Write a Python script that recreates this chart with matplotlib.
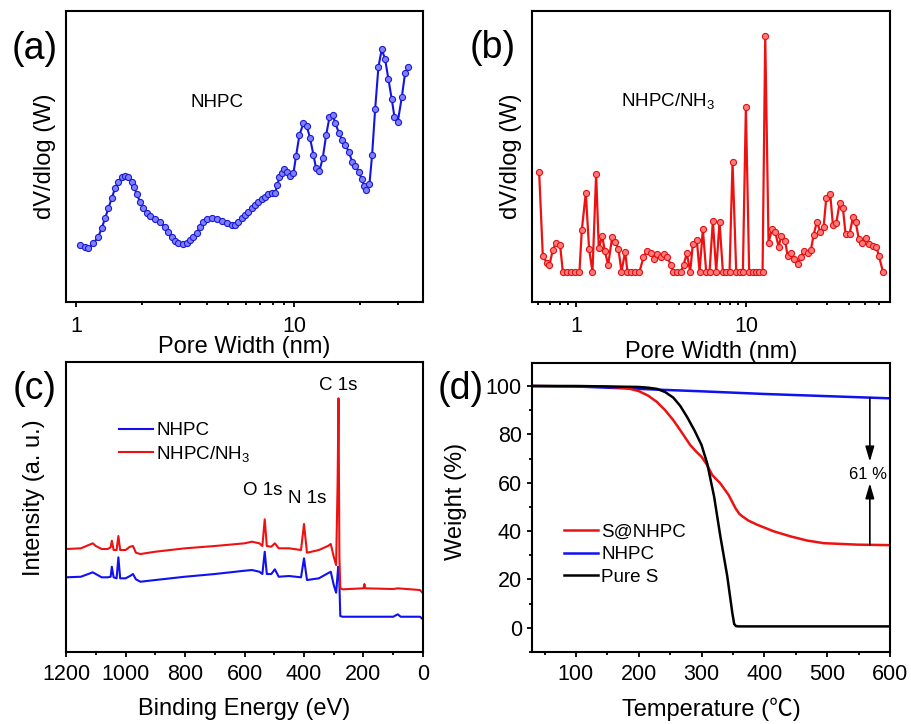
import matplotlib
matplotlib.use("Agg")
import matplotlib.pyplot as plt
from matplotlib.lines import Line2D
from matplotlib.ticker import MultipleLocator

plt.rcParams["font.family"] = ["Liberation Sans", "DejaVu Sans"]
plt.rcParams["mathtext.default"] = "regular"

# (a) pore size distribution, NHPC
pw_a = [1.043, 1.100, 1.139, 1.201, 1.266, 1.311, 1.359, 1.407, 1.458, 1.510,
        1.564, 1.620, 1.678, 1.739, 1.800, 1.845, 1.898, 1.966, 2.036, 2.110,
        2.185, 2.304, 2.428, 2.560, 2.652, 2.747, 2.846, 2.947, 3.086, 3.219,
        3.334, 3.453, 3.577, 3.706, 3.838, 3.976, 4.192, 4.419, 4.658, 4.911,
        5.177, 5.362, 5.553, 5.753, 5.960, 6.173, 6.394, 6.623, 6.861, 7.107,
        7.362, 7.625, 7.899, 8.183, 8.386, 8.566, 8.779, 9.000, 9.256, 9.587,
        9.929, 10.21, 10.58, 11.04, 11.43, 11.84, 12.27, 12.61, 13.07, 13.53,
        14.03, 14.53, 15.05, 15.47, 16.03, 16.61, 17.20, 17.81, 18.46, 19.11,
        19.80, 20.44, 20.95, 21.39, 22.16, 22.79, 23.53, 24.37, 25.24, 26.15,
        27.08, 28.05, 28.85, 29.89, 31.18, 32.30, 33.45]
dv_a = [0.570, 0.553, 0.537, 0.587, 0.653, 0.737, 0.837, 0.937, 1.037, 1.137,
        1.203, 1.247, 1.260, 1.247, 1.203, 1.153, 1.080, 1.003, 0.937, 0.893,
        0.860, 0.830, 0.797, 0.753, 0.703, 0.653, 0.613, 0.587, 0.577, 0.593,
        0.620, 0.653, 0.693, 0.747, 0.797, 0.827, 0.837, 0.827, 0.813, 0.793,
        0.770, 0.770, 0.803, 0.837, 0.870, 0.903, 0.937, 0.970, 1.003, 1.027,
        1.053, 1.080, 1.087, 1.093, 1.170, 1.253, 1.287, 1.327, 1.303, 1.260,
        1.287, 1.460, 1.670, 1.787, 1.760, 1.637, 1.470, 1.337, 1.313, 1.437,
        1.670, 1.847, 1.870, 1.787, 1.693, 1.620, 1.570, 1.503, 1.403, 1.360,
        1.303, 1.227, 1.160, 1.120, 1.180, 1.470, 1.927, 2.353, 2.527, 2.427,
        2.227, 2.027, 1.853, 1.803, 2.047, 2.293, 2.347]

# (b) pore size distribution, NHPC/NH3
pw_b = [0.606, 0.637, 0.672, 0.697, 0.729, 0.763, 0.805, 0.835, 0.882, 0.930,
        0.987, 1.046, 1.080, 1.140, 1.192, 1.248, 1.311, 1.359, 1.422, 1.474,
        1.543, 1.628, 1.703, 1.774, 1.848, 1.942, 2.004, 2.116, 2.234, 2.358,
        2.489, 2.616, 2.750, 2.889, 3.009, 3.148, 3.293, 3.445, 3.605, 3.737,
        3.910, 4.128, 4.279, 4.477, 4.684, 4.857, 5.127, 5.316, 5.561, 5.818,
        6.086, 6.368, 6.661, 6.969, 7.291, 7.627, 7.980, 8.312, 8.736, 9.138,
        9.559, 9.955, 10.41, 10.90, 11.40, 11.93, 12.48, 12.94, 13.53, 14.16,
        14.81, 15.50, 16.07, 16.96, 17.51, 18.31, 19.16, 20.04, 20.97, 21.94,
        22.95, 24.01, 24.90, 26.04, 27.25, 28.51, 29.55, 31.19, 32.35, 33.83,
        35.40, 37.03, 38.40, 40.53, 42.41, 43.97, 46.00, 48.13, 50.35, 52.68,
        55.61, 58.18, 60.32, 63.67]
dv_b = [1.303, 0.460, 0.393, 0.370, 0.520, 0.593, 0.570, 0.303, 0.303, 0.303,
        0.303, 0.303, 0.720, 1.093, 0.527, 0.303, 1.280, 0.537, 0.660, 0.513,
        0.370, 0.647, 0.603, 0.527, 0.303, 0.503, 0.303, 0.303, 0.303, 0.303,
        0.447, 0.513, 0.487, 0.427, 0.480, 0.447, 0.480, 0.447, 0.370, 0.303,
        0.303, 0.303, 0.370, 0.487, 0.303, 0.580, 0.620, 0.303, 0.727, 0.303,
        0.303, 0.810, 0.303, 0.803, 0.303, 0.303, 0.303, 1.403, 0.303, 0.303,
        0.303, 1.947, 0.303, 0.303, 0.303, 0.303, 0.303, 2.663, 0.593, 0.727,
        0.703, 0.553, 0.660, 0.613, 0.460, 0.487, 0.427, 0.380, 0.447, 0.513,
        0.487, 0.520, 0.670, 0.803, 0.703, 0.747, 1.037, 1.080, 0.770, 0.787,
        0.987, 0.937, 0.680, 0.680, 0.847, 0.803, 0.627, 0.593, 0.637, 0.580,
        0.560, 0.553, 0.460, 0.303]

# (c) XPS survey spectra
be_nhpc = [1200, 1150, 1110, 1100, 1080, 1060, 1050, 1046, 1040, 1030,
           1024, 1018, 1000, 985, 975, 965, 950, 900, 800, 700,
           600, 575, 550, 540, 532, 525, 510, 498, 485, 450,
           410, 400, 390, 350, 320, 310, 300, 292, 285, 282,
           278, 270, 200, 100, 85, 75, 10, 0]
int_nhpc = [0.747, 0.753, 0.797, 0.780, 0.747, 0.747, 0.753, 0.853, 0.747, 0.737,
            0.947, 0.737, 0.737, 0.760, 0.780, 0.727, 0.703, 0.720, 0.753, 0.780,
            0.813, 0.820, 0.803, 0.780, 1.003, 0.780, 0.780, 0.827, 0.753, 0.760,
            0.747, 0.937, 0.720, 0.737, 0.787, 0.803, 0.670, 0.593, 0.853, 0.787,
            0.360, 0.353, 0.353, 0.353, 0.377, 0.353, 0.353, 0.327]
be_nh3 = [1200, 1150, 1110, 1100, 1080, 1060, 1050, 1046, 1040, 1030,
          1024, 1018, 1000, 985, 975, 965, 950, 900, 800, 700,
          600, 575, 550, 540, 532, 525, 510, 498, 485, 450,
          410, 400, 390, 350, 320, 310, 300, 292, 287, 284,
          281, 278, 270, 200, 197, 194, 100, 85, 10, 0]
int_nh3 = [1.030, 1.037, 1.087, 1.060, 1.030, 1.030, 1.047, 1.113, 1.020, 1.020,
           1.160, 1.020, 1.020, 1.053, 1.060, 0.993, 0.980, 1.003, 1.037, 1.060,
           1.087, 1.103, 1.087, 1.060, 1.327, 1.060, 1.053, 1.087, 1.037, 1.037,
           1.020, 1.280, 0.993, 1.020, 1.060, 1.080, 0.953, 0.870, 1.687, 2.537,
           0.953, 0.637, 0.627, 0.637, 0.680, 0.637, 0.630, 0.637, 0.620, 0.587]
peak_names = ["C 1s", "O 1s", "N 1s"]
peak_x = [286, 538, 390]
peak_y = [2.67, 1.62, 1.54]

# (d) TGA curves
temp_snhpc = [30, 150, 180, 200, 215, 229, 242, 255, 268, 282, 291, 300, 309,
              317, 330, 343, 354, 360, 365, 375, 389, 415, 442, 468, 495, 522,
              548, 600]
wt_snhpc = [100, 99.7, 99.2, 97.9, 96.0, 93.4, 90.0, 85.9, 81.0, 75.6, 73.0,
            70.7, 67.3, 63.2, 59.7, 55.0, 49.5, 47.2, 46.1, 44.3, 42.6, 39.9,
            37.8, 36.1, 35.0, 34.7, 34.4, 34.2]
temp_nhpc = [30, 100, 200, 300, 400, 500, 600]
wt_nhpc = [100, 99.8, 98.8, 97.8, 96.7, 95.8, 94.9]
temp_s = [30, 100, 200, 215, 229, 242, 255, 266, 277, 289, 300, 309, 320, 330,
          341, 349, 352, 355, 360, 600]
wt_s = [100, 100, 99.6, 99.3, 98.8, 97.5, 95.2, 91.8, 87.2, 81.5, 75.6, 68.0,
        54.3, 37.8, 21.3, 6.2, 1.6, 0.7, 0.6, 0.6]
loss_temp = 568
loss_top, loss_bottom = 95.2, 34.3
loss_label = "61 %"

TICK_FS = 15.5
LABEL_FS = 17
NOTE_FS = 13.5

fig = plt.figure(figsize=(9.12, 7.24), dpi=100)
ax_a = fig.add_axes([0.0724, 0.5829, 0.3914, 0.4019])
ax_b = fig.add_axes([0.5833, 0.5829, 0.3925, 0.4019])
ax_c = fig.add_axes([0.0724, 0.0994, 0.3914, 0.4006])
ax_d = fig.add_axes([0.5833, 0.0994, 0.3925, 0.3992])


def style(ax, pad=5.5):
    for sp in ax.spines.values():
        sp.set_linewidth(1.5)
    ax.tick_params(which="both", direction="out", width=1.3,
                   labelsize=TICK_FS, pad=pad)
    ax.tick_params(which="major", length=3.8)
    ax.tick_params(which="minor", length=2.4)


# ---- (a)
ax_a.plot(pw_a, dv_a, "-o", color="#1414e0", lw=1.5, ms=4.4,
          mfc="#7f7fff", mec="#1a1ad0", mew=0.8)
ax_a.set_xscale("log")
ax_a.set_xlim(0.9, 39)
ax_a.set_ylim(0, 2.91)
ax_a.set_yticks([])
ax_a.set_xticks([1, 10], ["1", "10"])
ax_a.set_xticks([2, 3, 4, 5, 6, 7, 8, 9, 20, 30], minor=True)
ax_a.set_xticklabels([], minor=True)
style(ax_a, pad=6)
ax_a.set_xlabel("Pore Width (nm)", fontsize=LABEL_FS, va="top")
ax_a.xaxis.set_label_coords(0.5, -0.118)
ax_a.set_ylabel("dV/dlog (W)", fontsize=LABEL_FS)
ax_a.yaxis.set_label_coords(-0.028, 0.5)
ax_a.text(0.423, 0.684, "NHPC", transform=ax_a.transAxes, fontsize=NOTE_FS,
          ha="center", va="center")

# ---- (b)
ax_b.plot(pw_b, dv_b, "-o", color="#ee1111", lw=1.6, ms=4.4,
          mfc="#ff7a7a", mec="#e01010", mew=0.8)
ax_b.set_xscale("log")
ax_b.set_xlim(0.55, 70)
ax_b.set_ylim(0, 2.91)
ax_b.set_yticks([])
ax_b.set_xticks([1, 10], ["1", "10"])
ax_b.set_xticks([0.6, 0.7, 0.8, 0.9, 2, 3, 4, 5, 6, 7, 8, 9,
                 20, 30, 40, 50, 60], minor=True)
ax_b.set_xticklabels([], minor=True)
style(ax_b, pad=6)
ax_b.set_xlabel("Pore Width (nm)", fontsize=LABEL_FS, va="top")
ax_b.xaxis.set_label_coords(0.5, -0.135)
ax_b.set_ylabel("dV/dlog (W)", fontsize=LABEL_FS)
ax_b.yaxis.set_label_coords(-0.028, 0.5)
ax_b.text(0.380, 0.691, "NHPC/NH$_3$", transform=ax_b.transAxes,
          fontsize=NOTE_FS, ha="center", va="center")

# ---- (c)
ax_c.plot(be_nhpc, int_nhpc, color="#1010f0", lw=1.5, label="NHPC")
ax_c.plot(be_nh3, int_nh3, color="#ee1111", lw=1.5, label="NHPC/NH$_3$")
ax_c.set_xlim(1200, 0)
ax_c.set_ylim(0, 2.90)
ax_c.set_yticks([])
ax_c.xaxis.set_major_locator(MultipleLocator(200))
ax_c.xaxis.set_minor_locator(MultipleLocator(100))
style(ax_c, pad=5)
ax_c.set_xlabel("Binding Energy (eV)", fontsize=LABEL_FS, va="top")
ax_c.xaxis.set_label_coords(0.5, -0.157)
ax_c.set_ylabel("Intensity (a. u.)", fontsize=LABEL_FS)
ax_c.yaxis.set_label_coords(-0.060, 0.533)
for name, px, py in zip(peak_names, peak_x, peak_y):
    ax_c.text(px, py, name, fontsize=NOTE_FS, ha="center", va="center")
ax_c.legend(loc="upper left", bbox_to_anchor=(0.148, 0.792), frameon=False,
            fontsize=NOTE_FS, handlelength=1.8, handletextpad=0.2,
            labelspacing=0.22, borderpad=0, borderaxespad=0)

# ---- (d)
ax_d.plot(temp_nhpc, wt_nhpc, color="#1010f0", lw=1.8)
ax_d.plot(temp_snhpc, wt_snhpc, color="#ee1111", lw=1.8)
ax_d.plot(temp_s, wt_s, color="black", lw=1.8)
ax_d.set_xlim(30, 600)
ax_d.set_ylim(-10, 109.5)
ax_d.set_yticks([0, 20, 40, 60, 80, 100])
ax_d.yaxis.set_minor_locator(MultipleLocator(10))
ax_d.xaxis.set_major_locator(MultipleLocator(100))
ax_d.xaxis.set_minor_locator(MultipleLocator(50))
style(ax_d, pad=5)
ax_d.tick_params(axis="y", which="both", pad=3.5)
ax_d.set_xlabel("Temperature (\u2103)", fontsize=LABEL_FS, va="top",
                family=["Liberation Sans", "Noto Sans CJK SC"])
ax_d.xaxis.set_label_coords(0.5, -0.157)
ax_d.set_ylabel("Weight (%)", fontsize=LABEL_FS)
ax_d.yaxis.set_label_coords(-0.182, 0.522)

arrow_style = dict(arrowstyle="-|>,head_length=0.75,head_width=0.22",
                   color="black", lw=1.2, mutation_scale=12,
                   shrinkA=0, shrinkB=0)
ax_d.annotate("", xy=(loss_temp, 68.7), xytext=(loss_temp, loss_top),
              arrowprops=arrow_style)
ax_d.annotate("", xy=(loss_temp, 59.8), xytext=(loss_temp, loss_bottom),
              arrowprops=arrow_style)
ax_d.text(loss_temp - 3, 63.2, loss_label, fontsize=12, ha="center", va="center")

handles = [Line2D([], [], color="#ee1111", lw=1.8),
           Line2D([], [], color="#1010f0", lw=1.8),
           Line2D([], [], color="black", lw=1.8)]
ax_d.legend(handles, ["S@NHPC", "NHPC", "Pure S"], loc="upper left",
            bbox_to_anchor=(0.089, 0.445), frameon=False, fontsize=NOTE_FS,
            handlelength=1.8, handletextpad=0.2, labelspacing=0.3,
            borderpad=0, borderaxespad=0)

# panel letters
for lbl, fx, fy in [("(a)", 0.0384, 0.9323), ("(b)", 0.5406, 0.9337),
                    ("(c)", 0.0384, 0.4630), ("(d)", 0.5055, 0.4630)]:
    fig.text(fx, fy, lbl, fontsize=27, ha="center", va="center")

fig.savefig("out.png", dpi=100, facecolor="white")
